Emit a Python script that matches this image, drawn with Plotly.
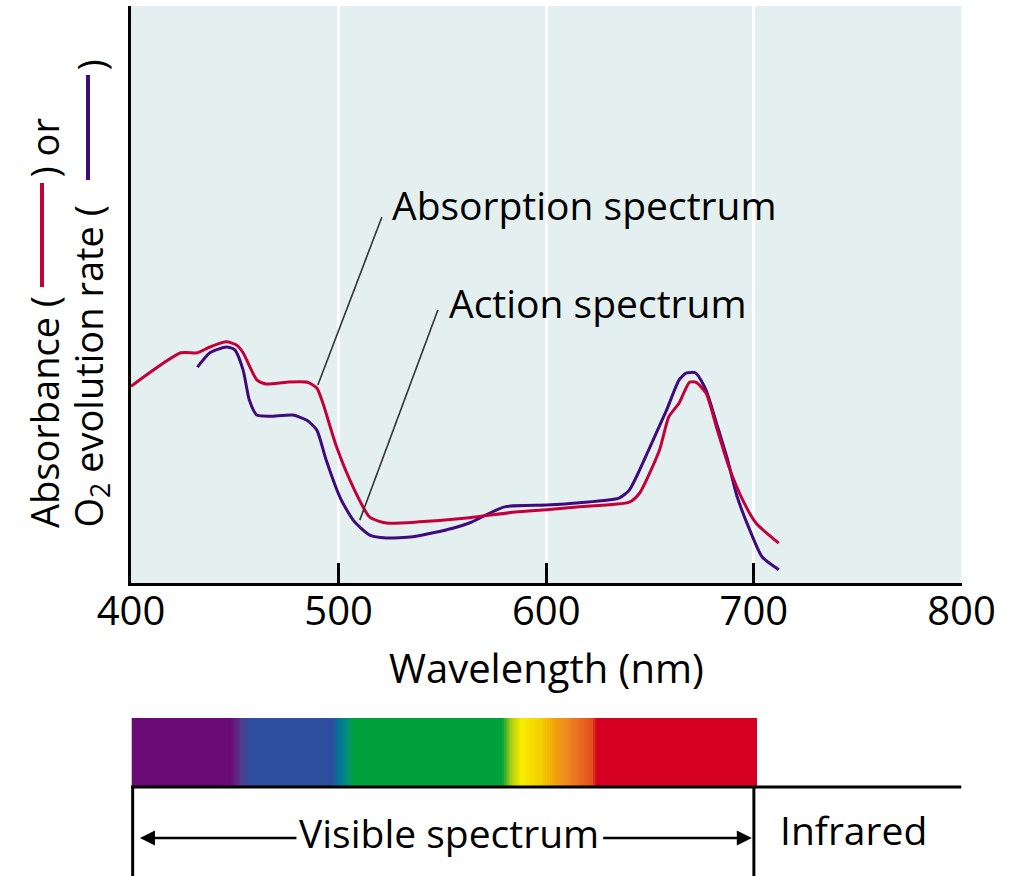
import plotly.graph_objects as go

# ---------------- data (relative units, 0 = x axis, 100 = top of plot) ----------------
absorb_nm = [400, 424, 432, 438, 446, 451, 454, 460.6, 465, 475, 485, 489.5, 492.4, 499, 507,
             515, 523, 539, 563, 585, 600, 616, 640, 645, 654.6, 659, 664, 669, 672, 677, 682,
             688, 694.6, 701, 712]
absorb_val = [34.1, 39.9, 39.9, 40.9, 41.8, 41.2, 39.9, 35.2, 34.5, 34.8, 34.8, 33.8, 31.2, 23.6,
              16.6, 11.4, 10.4, 10.6, 11.3, 12.3, 12.7, 13.2, 14.0, 15.6, 23.1, 28.8, 31.2, 34.8,
              34.8, 32.9, 27.0, 20.1, 14.4, 10.4, 6.9]

action_nm = [432, 438, 446, 450, 454, 457, 460.6, 467, 478, 484.7, 489.5, 494, 500.6, 507, 515,
             523, 535.7, 555, 563, 580, 600, 616, 635, 640, 645, 650, 658, 664, 667.6, 672, 677,
             682, 687, 692, 698, 704, 712]
action_val = [37.4, 39.9, 40.9, 40.4, 36.9, 31.7, 29.1, 28.9, 29.1, 28.2, 26.5, 21.3, 14.9, 10.9,
              8.3, 7.8, 8.0, 9.5, 10.4, 13.2, 13.5, 13.9, 14.7, 16.1, 19.6, 23.6, 30.0, 35.2, 36.4,
              36.4, 33.4, 27.7, 21.8, 14.9, 9.2, 4.5, 2.3]

x_ticks = [400, 500, 600, 700, 800]

# visible-spectrum colour stops (wavelength nm, colour)
spec_nm = [400, 447.5, 452, 457, 496, 500, 503, 506.5, 577.5, 582, 587, 597, 604, 609, 621, 623.3, 700]
spec_col = ["#6A0A74", "#6A0A74", "#523B8E", "#2C4E9D", "#2C4E9D", "#007A90", "#00907A",
            "#00A03C", "#00A03C", "#A8CF10", "#F7EC00", "#F3CD00", "#F09A10", "#EE8A20",
            "#E24E1E", "#D60022", "#D60022"]

RED = "#C4003A"
PURPLE = "#3E0A7C"
BG = "#E4F0F0"
FONT = "Open Sans"
W, H = 1019, 876


def px(x):
    return x / W


def py(y):
    return 1 - y / H


fig = go.Figure()

fig.add_trace(go.Scatter(x=action_nm, y=action_val, mode="lines",
                         line=dict(color=PURPLE, width=3, shape="spline", smoothing=0.6),
                         hoverinfo="skip", showlegend=False))
fig.add_trace(go.Scatter(x=absorb_nm, y=absorb_val, mode="lines",
                         line=dict(color=RED, width=3, shape="spline", smoothing=0.6),
                         hoverinfo="skip", showlegend=False))

# spectrum bar as a heatmap
lo, hi = spec_nm[0], spec_nm[-1]
cscale = [[(w - lo) / (hi - lo), c] for w, c in zip(spec_nm, spec_col)]
wl = list(range(400, 701))
fig.add_trace(go.Heatmap(x=wl, y=[0], z=[wl], colorscale=cscale, zmin=lo, zmax=hi,
                         showscale=False, hoverinfo="skip", xaxis="x2", yaxis="y2"))

fig.update_layout(
    width=W, height=H, margin=dict(l=0, r=0, t=0, b=0, autoexpand=False),
    paper_bgcolor="white", plot_bgcolor=BG,
    font=dict(family=FONT, color="black", size=40),
    showlegend=False,
    xaxis=dict(domain=[px(131), px(961.5)], range=[400, 800], tickvals=x_ticks,
               ticks="inside", ticklen=20, tickwidth=3, tickcolor="black",
               showline=True, linewidth=3, linecolor="black", automargin=False,
               showgrid=True, gridcolor="white", gridwidth=3, zeroline=False,
               tickfont=dict(family=FONT, size=40, color="black"), ticklabelstandoff=-9),
    yaxis=dict(domain=[py(583), py(6)], range=[0, 100], tickvals=[100], automargin=False,
               ticks="inside", ticklen=25, tickwidth=3, tickcolor="black",
               showticklabels=False, showline=True, linewidth=3, linecolor="black",
               showgrid=False, zeroline=False),
    xaxis2=dict(domain=[px(131.5), px(757)], range=[399.5, 700.5], anchor="y2", automargin=False,
                showticklabels=False, showgrid=False, zeroline=False, ticks=""),
    yaxis2=dict(domain=[py(786), py(718)], range=[-0.5, 0.5], anchor="x2", automargin=False,
                showticklabels=False, showgrid=False, zeroline=False, ticks=""),
)

ann = []
# x-axis title
ann.append(dict(text="Wavelength (nm)", x=600, xref="x", y=py(667), yref="paper",
                showarrow=False, xanchor="center", yanchor="middle",
                font=dict(size=40, family=FONT)))
# curve labels
ann.append(dict(text="Absorption spectrum", x=524.7, xref="x", y=py(204), yref="paper",
                showarrow=False, xanchor="left", yanchor="middle", font=dict(size=39, family=FONT)))
ann.append(dict(text="Action spectrum", x=552.1, xref="x", y=py(302), yref="paper",
                showarrow=False, xanchor="left", yanchor="middle", font=dict(size=39, family=FONT)))
# y title pieces (rotated)
ann.append(dict(text="Absorbance (", x=px(44), y=py(530), xref="paper", yref="paper",
                textangle=-90, showarrow=False, xanchor="center", yanchor="bottom",
                font=dict(size=38, family=FONT)))
ann.append(dict(text=") or", x=px(44), y=py(180), xref="paper", yref="paper",
                textangle=-90, showarrow=False, xanchor="center", yanchor="bottom",
                font=dict(size=38, family=FONT)))
ann.append(dict(text="O<sub>2</sub> evolution rate (", x=px(90), y=py(530), xref="paper", yref="paper",
                textangle=-90, showarrow=False, xanchor="center", yanchor="bottom",
                font=dict(size=38, family=FONT)))
ann.append(dict(text=")", x=px(90), y=py(73), xref="paper", yref="paper",
                textangle=-90, showarrow=False, xanchor="center", yanchor="bottom",
                font=dict(size=38, family=FONT)))
# bottom labels
ann.append(dict(text="Visible spectrum", x=553, xref="x", y=py(832), yref="paper",
                showarrow=False, xanchor="center", yanchor="middle", font=dict(size=39, family=FONT)))
ann.append(dict(text="Infrared", x=748, xref="x", y=py(829), yref="paper",
                showarrow=False, xanchor="center", yanchor="middle", font=dict(size=39, family=FONT)))
# arrows
for tip, tail in [(404.3, 480.4), (699.0, 626.7)]:
    ann.append(dict(text="", x=tip, xref="x", y=py(838), yref="paper",
                    ax=tail, axref="x", ay=0, ayref="pixel",
                    showarrow=True, arrowhead=2, arrowsize=1.2, arrowwidth=2.5, arrowcolor="black"))
fig.update_layout(annotations=ann)

shapes = []
# leader lines
shapes.append(dict(type="line", xref="x", yref="y", x0=520.8, y0=63.4, x1=490.0, y1=34.3,
                   line=dict(color="#333333", width=1.6)))
shapes.append(dict(type="line", xref="x", yref="y", x0=547.8, y0=47.3, x1=510.2, y1=10.9,
                   line=dict(color="#333333", width=1.6)))
# legend keys inside y title
shapes.append(dict(type="line", xref="paper", yref="paper", x0=px(42), x1=px(42), y0=py(287), y1=py(183),
                   line=dict(color=RED, width=4)))
shapes.append(dict(type="line", xref="paper", yref="paper", x0=px(88), x1=px(88), y0=py(180), y1=py(75),
                   line=dict(color=PURPLE, width=4)))
# frame below spectrum bar
shapes.append(dict(type="line", xref="x", yref="paper", x0=400, x1=800, y0=py(787), y1=py(787),
                   line=dict(color="black", width=3)))
shapes.append(dict(type="line", xref="x", yref="paper", x0=400.8, x1=400.8, y0=py(787), y1=0,
                   line=dict(color="black", width=3)))
shapes.append(dict(type="line", xref="x", yref="paper", x0=700, x1=700, y0=py(787), y1=0,
                   line=dict(color="black", width=3)))
fig.update_layout(shapes=shapes)

fig.write_html("out.html")
